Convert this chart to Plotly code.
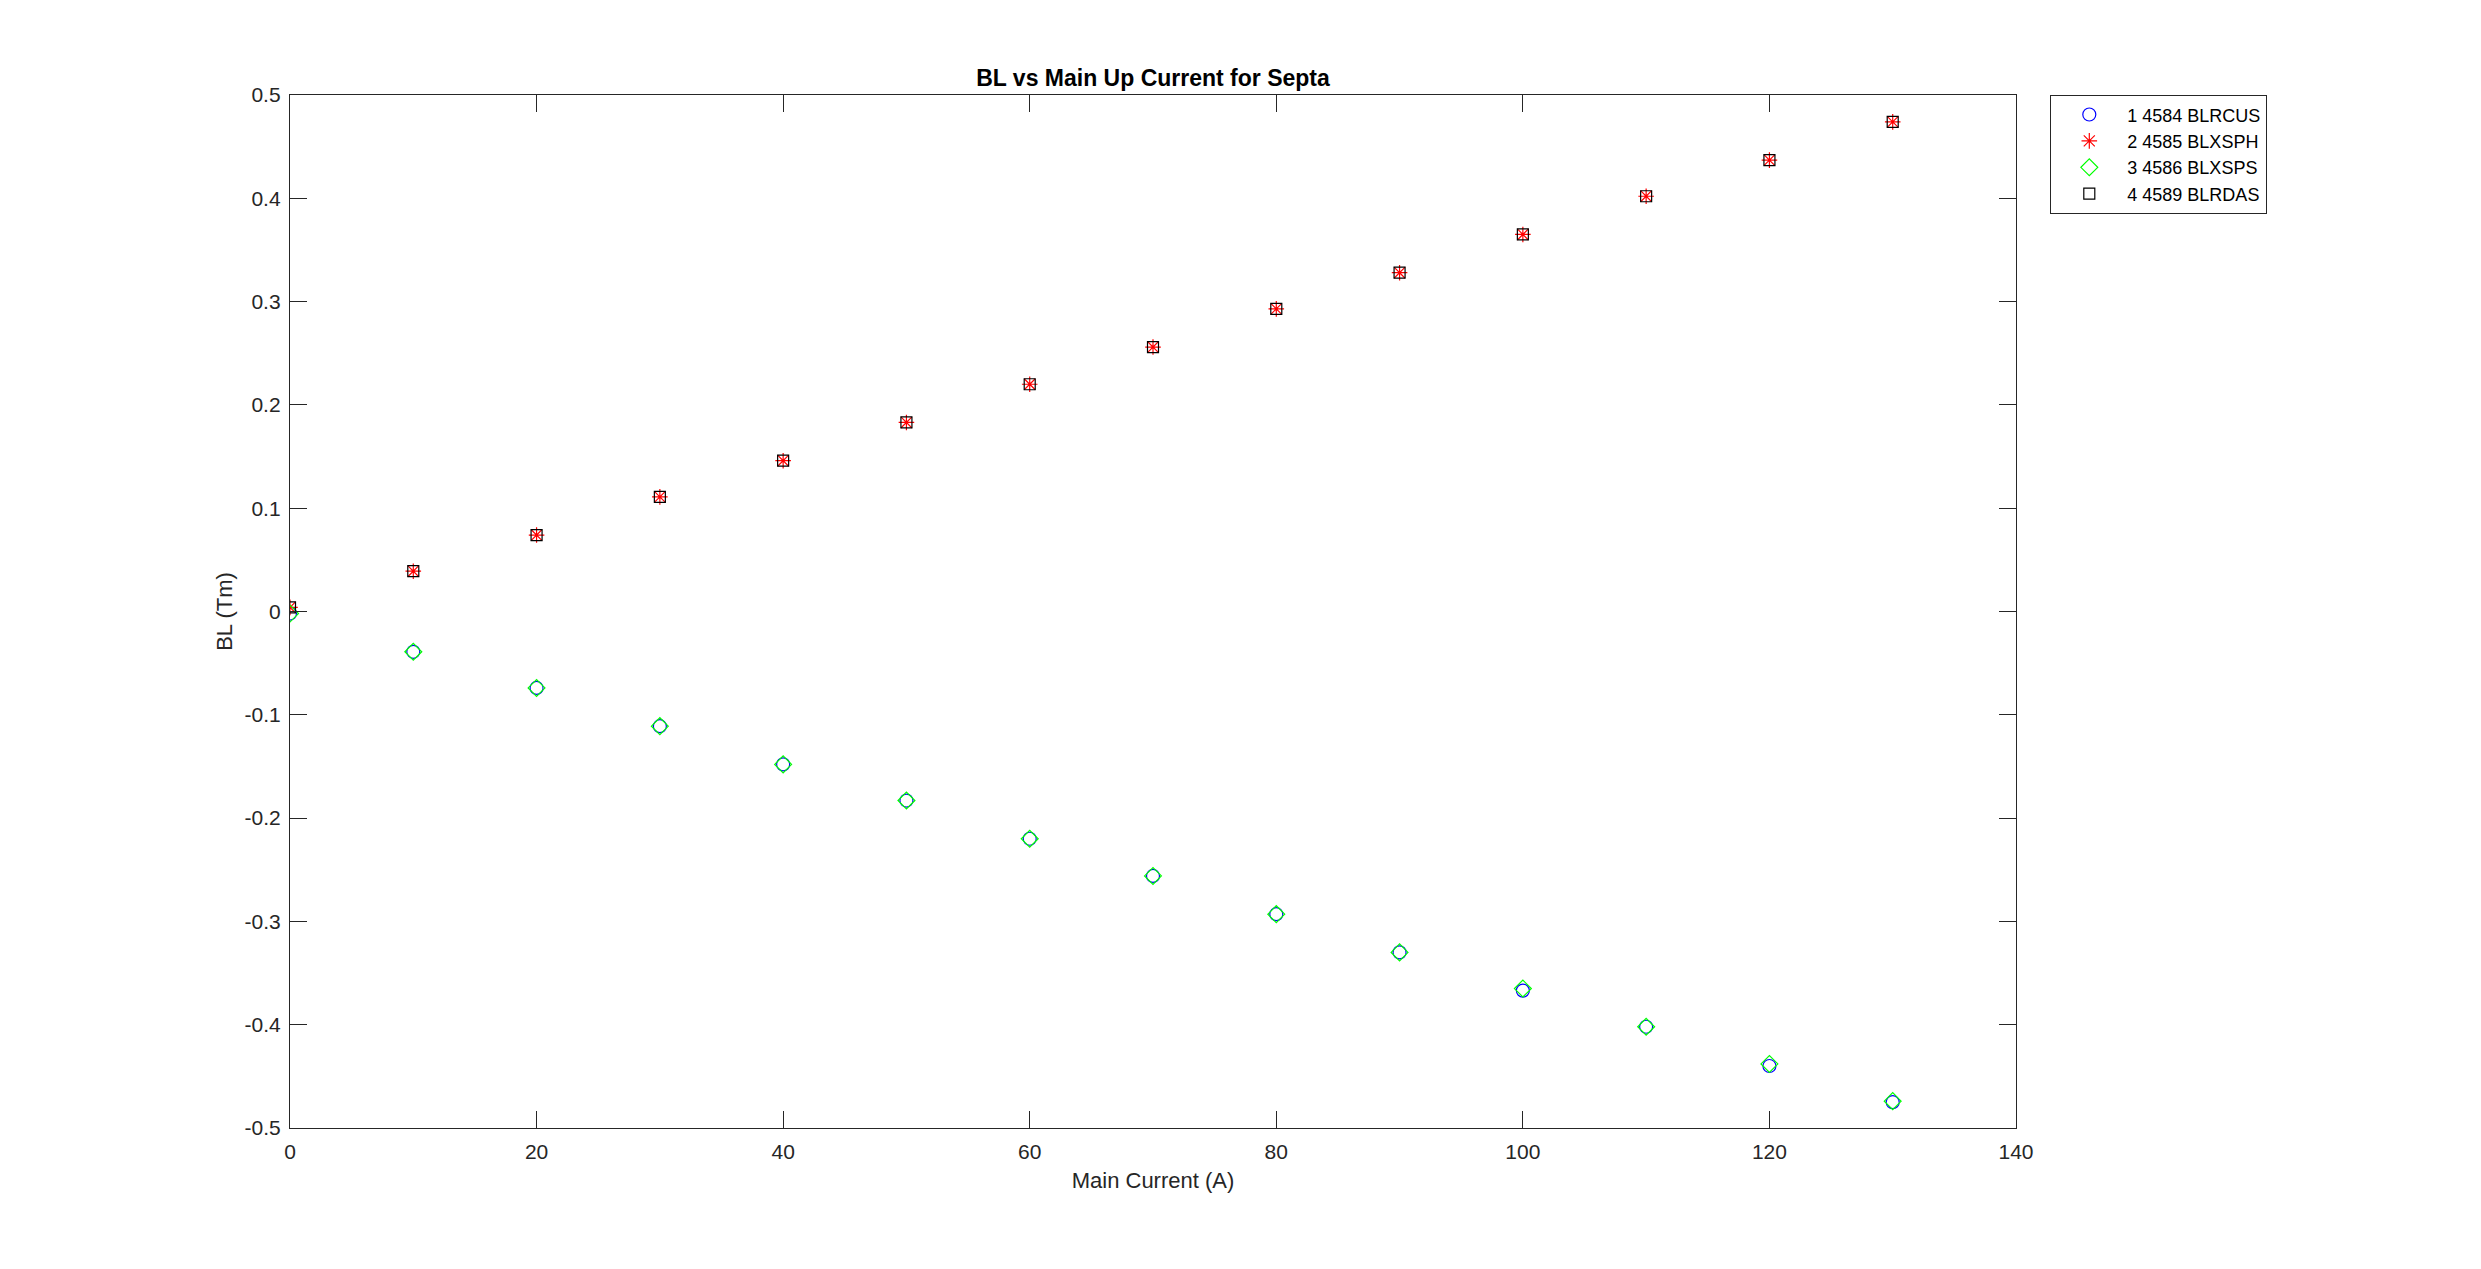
import plotly.graph_objects as go

current = [0, 10, 20, 30, 40, 50, 60, 70, 80, 90, 100, 110, 120, 130]
bl_4584 = [-0.002, -0.039, -0.074, -0.111, -0.148, -0.183, -0.220, -0.256, -0.293, -0.330, -0.367, -0.402, -0.440, -0.475]
bl_4585 = [0.004, 0.039, 0.074, 0.111, 0.146, 0.183, 0.220, 0.256, 0.293, 0.328, 0.365, 0.402, 0.437, 0.474]
bl_4586 = [-0.002, -0.039, -0.074, -0.111, -0.148, -0.183, -0.220, -0.256, -0.293, -0.330, -0.365, -0.402, -0.438, -0.474]
bl_4589 = [0.004, 0.039, 0.074, 0.111, 0.146, 0.183, 0.220, 0.256, 0.293, 0.328, 0.365, 0.402, 0.437, 0.474]
names = ["1 4584 BLRCUS", "2 4585 BLXSPH", "3 4586 BLXSPS", "4 4589 BLRDAS"]

series = [bl_4584, bl_4585, bl_4586, bl_4589]
symbols = ["circle-open", "asterisk-open", "diamond-open", "square-open"]
colors = ["#0000ff", "#ff0000", "#00ff00", "#000000"]
sizes = [13, 13, 13, 11]

fig = go.Figure()
for ys, nm, sym, col, sz in zip(series, names, symbols, colors, sizes):
    fig.add_trace(go.Scatter(
        x=current, y=ys, mode="markers", name=nm,
        marker=dict(symbol=sym, size=sz, color=col, line=dict(color=col, width=1.2)),
    ))

axis_common = dict(
    showgrid=False, zeroline=False, showline=True, linecolor="#262626", linewidth=1.3,
    mirror="ticks", ticks="inside", ticklen=17, tickwidth=1.3, tickcolor="#262626",
    tickfont=dict(family="Liberation Sans, Arial", size=21, color="#262626"),
)

W, H = 2473, 1261
L, T = 282, 87
R = W - (L + 1726)
B = H - (T + 1033)

fig.update_layout(
    width=W, height=H,
    margin=dict(l=L, r=R, t=T, b=B),
    paper_bgcolor="white", plot_bgcolor="white",
    title=dict(text="<b>BL vs Main Up Current for Septa</b>", x=(L + 863) / W, xanchor="center",
               y=1 - 70 / H, yanchor="middle",
               font=dict(family="Liberation Sans, Arial", size=23, color="#000000")),
    xaxis=dict(range=[0, 140], tickvals=[0, 20, 40, 60, 80, 100, 120, 140],
               ticklabelstandoff=5,
               title=dict(text="Main Current (A)", standoff=10,
                          font=dict(family="Liberation Sans, Arial", size=22, color="#262626")),
               **axis_common),
    yaxis=dict(range=[-0.5, 0.5], tickvals=[-0.5, -0.4, -0.3, -0.2, -0.1, 0, 0.1, 0.2, 0.3, 0.4, 0.5],
               ticktext=["-0.5", "-0.4", "-0.3", "-0.2", "-0.1", "0", "0.1", "0.2", "0.3", "0.4", "0.5"],
               ticklabelstandoff=4,
               title=dict(text="BL (Tm)", standoff=5,
                          font=dict(family="Liberation Sans, Arial", size=22, color="#262626")),
               **axis_common),
    legend=dict(x=(2050 - 290) / 1726, y=1.0, xanchor="left", yanchor="top",
                bgcolor="white", bordercolor="#262626", borderwidth=1.3,
                font=dict(family="Liberation Sans, Arial", size=18, color="#000000"),
                itemwidth=66, tracegroupgap=0),
    showlegend=True,
)

fig.write_html("out.html")
